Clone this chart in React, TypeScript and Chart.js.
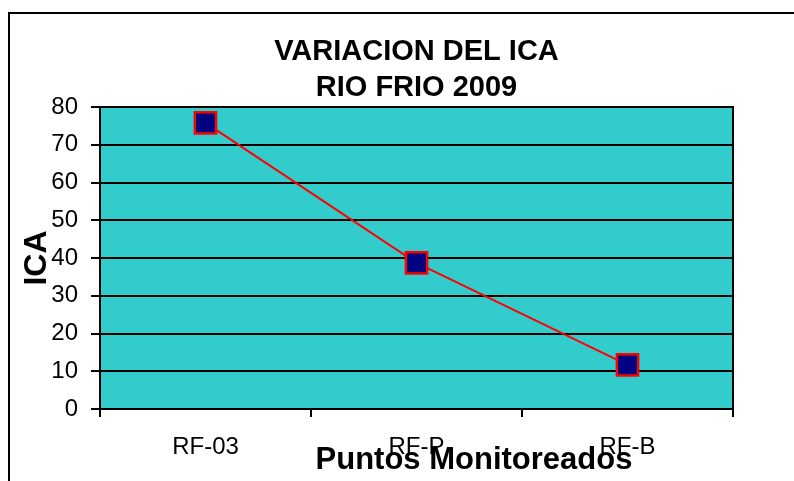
import React, { useEffect, useRef } from "react";
import { Chart, registerables } from "chart.js";

Chart.register(...registerables);

const categories = ["RF-03", "RF-P", "RF-B"];
const icaValues = [75.8, 38.7, 11.7];
const titleLines = ["VARIACION DEL ICA", "RIO FRIO 2009"];
const yAxisTitle = "ICA";
const xAxisTitle = "Puntos Monitoreados";
const yMin = 0;
const yMax = 80;
const yStep = 10;

const FONT = '"Liberation Sans", Arial, sans-serif';

const decorPlugin = {
  id: "decor",
  beforeDraw(chart: any) {
    const { ctx, chartArea, width, height } = chart;
    ctx.save();
    ctx.fillStyle = "#ffffff";
    ctx.fillRect(0, 0, width, height);
    ctx.fillStyle = "#33CCCC";
    ctx.fillRect(chartArea.left, chartArea.top, chartArea.right - chartArea.left, chartArea.bottom - chartArea.top);
    ctx.restore();
  },
  beforeDatasetsDraw(chart: any) {
    const { ctx, chartArea } = chart;
    ctx.save();
    ctx.strokeStyle = "#000000";
    ctx.lineWidth = 2;
    ctx.strokeRect(chartArea.left, chartArea.top, chartArea.right - chartArea.left, chartArea.bottom - chartArea.top);
    ctx.restore();
  },
  afterDraw(chart: any) {
    const { ctx, width, height } = chart;
    ctx.save();
    ctx.strokeStyle = "#000000";
    ctx.lineWidth = 2;
    ctx.beginPath();
    ctx.moveTo(9, height);
    ctx.lineTo(9, 13);
    ctx.lineTo(width, 13);
    ctx.stroke();
    ctx.fillStyle = "#000000";
    ctx.font = `bold 31px ${FONT}`;
    ctx.textAlign = "center";
    ctx.textBaseline = "alphabetic";
    ctx.fillText(xAxisTitle, 474, 469);
    ctx.restore();
  },
};

export default function App() {
  const ref = useRef<HTMLCanvasElement | null>(null);
  useEffect(() => {
    if (!ref.current) return;
    const chart = new Chart(ref.current, {
      type: "line",
      data: {
        labels: categories,
        datasets: [
          {
            label: "ICA",
            data: icaValues,
            borderColor: "#FF0000",
            borderWidth: 2,
            pointStyle: "rect",
            pointRadius: 15,
            pointHoverRadius: 15,
            pointBackgroundColor: "#000080",
            pointBorderColor: "#FF0000",
            pointBorderWidth: 2.5,
            tension: 0,
          },
        ],
      },
      plugins: [decorPlugin],
      options: {
        responsive: false,
        animation: false,
        layout: { padding: { top: 12, left: 0, right: 61, bottom: 0 } },
        plugins: {
          legend: { display: false },
          tooltip: { enabled: false },
          title: {
            display: true,
            text: titleLines,
            fullSize: false,
            color: "#000000",
            font: { family: FONT, size: 29, weight: "bold", lineHeight: 1.2414 },
            padding: { top: 22, bottom: 1 },
          },
        },
        scales: {
          x: {
            type: "category",
            offset: true,
            afterFit(scale: any) {
              scale.height = 72;
            },
            grid: {
              offset: true,
              drawOnChartArea: false,
              drawTicks: true,
              tickLength: 8,
              color: "#000000",
              lineWidth: 2,
            },
            border: { display: true, color: "#000000", width: 2 },
            ticks: {
              color: "#000000",
              font: { family: FONT, size: 24 },
              padding: 16,
              maxRotation: 0,
            },
          },
          y: {
            min: yMin,
            max: yMax,
            afterFit(scale: any) {
              scale.width = 100;
            },
            grid: {
              color: "#000000",
              lineWidth: 2,
              drawTicks: true,
              tickLength: 9,
            },
            border: { display: true, color: "#000000", width: 2 },
            ticks: {
              stepSize: yStep,
              color: "#000000",
              font: { family: FONT, size: 24 },
              padding: 13,
            },
            title: {
              display: true,
              text: yAxisTitle,
              color: "#000000",
              font: { family: FONT, size: 32, weight: "bold", lineHeight: 1.2 },
              padding: { top: 18, bottom: 0 },
            },
          },
        },
      },
    });
    return () => chart.destroy();
  }, []);
  return (
    <div style={{ position: "absolute", left: 0, top: 0, width: 794, height: 481 }}>
      <canvas ref={ref} width={794} height={481} style={{ display: "block" }} />
    </div>
  );
}
